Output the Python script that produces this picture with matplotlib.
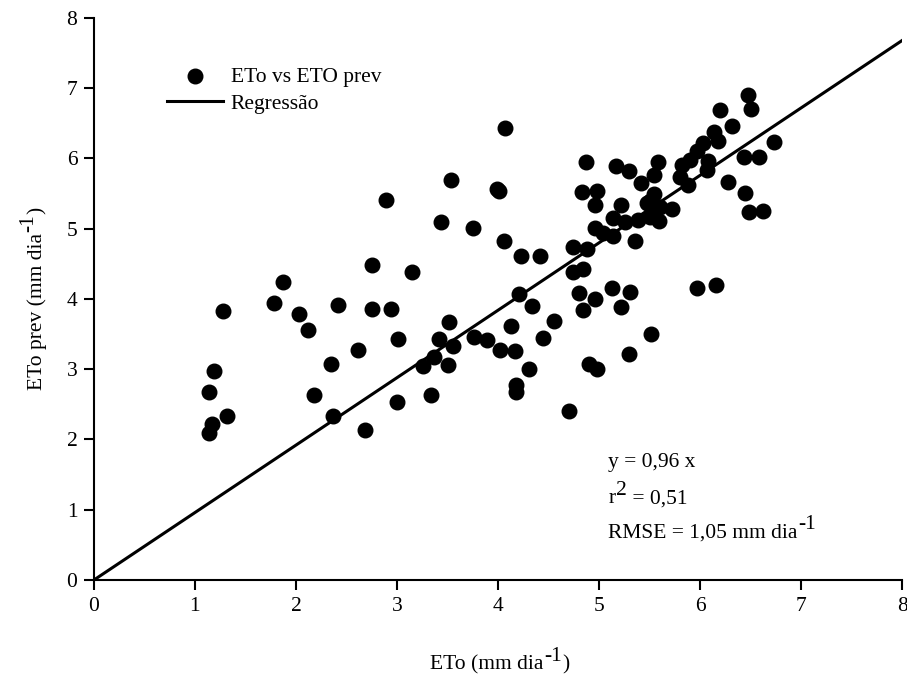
import numpy as np
import matplotlib
matplotlib.use("Agg")
import matplotlib.pyplot as plt

plt.rcParams['font.family'] = ['Liberation Serif', 'DejaVu Serif']

eto = [1.28, 1.87, 1.78, 2.03, 2.12, 2.42, 1.19, 1.14, 1.32, 1.17,
       1.14, 2.35, 2.61, 2.18, 2.37, 2.68, 2.75, 2.75, 2.94, 2.89,
       3.01, 3.00, 3.15, 3.44, 3.53, 3.75, 3.99, 4.01, 4.07, 4.06,
       4.23, 4.42, 4.21, 4.34, 4.55, 3.51, 4.13, 4.45, 3.42, 3.55,
       3.76, 3.89, 4.02, 4.17, 3.37, 3.26, 3.50, 4.31, 4.18, 4.18,
       3.34, 4.70, 4.74, 4.88, 4.74, 4.84, 4.80, 4.96, 4.84, 5.13,
       5.31, 5.22, 5.97, 6.16, 5.51, 5.30, 4.90, 4.98, 4.87, 4.83,
       4.98, 4.96, 4.96, 5.17, 5.30, 5.58, 5.42, 5.54, 5.82, 5.90,
       6.03, 6.18, 6.07, 5.80, 5.88, 6.28, 5.22, 5.50, 5.54, 5.72,
       5.14, 5.26, 5.39, 5.50, 5.59, 5.52, 5.04, 5.14, 5.36, 6.47,
       6.50, 6.20, 6.32, 6.14, 6.73, 6.43, 6.58, 6.08, 5.97, 6.44,
       6.48, 6.62, 5.60, 5.47]
eto_prev = [3.83, 4.24, 3.95, 3.78, 3.56, 3.92, 2.98, 2.67, 2.33, 2.22,
            2.09, 3.08, 3.27, 2.63, 2.33, 2.14, 4.48, 3.86, 3.86, 5.41,
            3.43, 2.53, 4.38, 5.09, 5.69, 5.01, 5.57, 5.54, 6.44, 4.83,
            4.61, 4.61, 4.07, 3.90, 3.68, 3.67, 3.61, 3.44, 3.43, 3.33,
            3.46, 3.42, 3.27, 3.26, 3.17, 3.04, 3.06, 3.00, 2.78, 2.68,
            2.64, 2.41, 4.74, 4.71, 4.39, 4.42, 4.08, 4.00, 3.85, 4.15,
            4.10, 3.88, 4.16, 4.20, 3.50, 3.22, 3.07, 3.00, 5.95, 5.53,
            5.54, 5.34, 5.01, 5.89, 5.82, 5.95, 5.65, 5.77, 5.91, 5.98,
            6.22, 6.25, 5.84, 5.74, 5.62, 5.67, 5.34, 5.39, 5.50, 5.28,
            5.15, 5.09, 5.12, 5.17, 5.11, 5.27, 4.94, 4.89, 4.82, 6.91,
            6.70, 6.69, 6.46, 6.38, 6.23, 6.02, 6.02, 5.96, 6.10, 5.51,
            5.24, 5.25, 5.31, 5.36]

slope = 0.96
x_line = np.array([0, 8])


def sup_text(ax, x, y, parts, size, transform, rot=False, rise=6):
    # parts: lista de (texto, elevado?) ; escreve em sequencia com sobrescritos grandes
    if rot:
        t = ax.text(x, y, parts[0][0], transform=transform, fontsize=size,
                    rotation=90, ha='right', va='bottom')
    else:
        t = ax.text(x, y, parts[0][0], transform=transform, fontsize=size,
                    ha='left', va='bottom')
    up = parts[0][1]
    for s, is_up in parts[1:]:
        d = (rise if is_up else 0) - (rise if up else 0)
        if rot:
            t = ax.annotate(s, xy=(1, 1), xycoords=t, xytext=(-d, 0.5),
                            textcoords='offset points', fontsize=size,
                            rotation=90, ha='right', va='bottom',
                            annotation_clip=False)
        else:
            t = ax.annotate(s, xy=(1, 0), xycoords=t, xytext=(0.5, d),
                            textcoords='offset points', fontsize=size,
                            ha='left', va='bottom', annotation_clip=False)
        up = is_up
    return t


fig = plt.figure(figsize=(9.07, 6.82), dpi=100)
ax = fig.add_axes([0.1036, 0.1496, 0.891, 0.824])

ax.scatter(eto, eto_prev, s=110, color='black', zorder=3, label='ETo vs ETO prev')
ax.plot(x_line, slope * x_line, color='black', lw=2.2, label='Regressão')

ax.set_xlim(0, 8)
ax.set_ylim(0, 8)
ax.set_xticks(range(0, 9))
ax.set_yticks(range(0, 9))
ax.tick_params(direction='out', length=7, width=1.5, labelsize=15.5, pad=5)
for s in ['top', 'right']:
    ax.spines[s].set_visible(False)
for s in ['left', 'bottom']:
    ax.spines[s].set_linewidth(1.5)

# rotulos dos eixos com sobrescrito
sup_text(ax, 430 / 907, 1 - 674 / 682, [('ETo (mm dia', False), ('-1', True), (')', False)],
         15.5, fig.transFigure)
sup_text(ax, 47 / 907, 1 - 390 / 682, [('ETo prev (mm dia', False), ('-1', True), (')', False)],
         15.5, fig.transFigure, rot=True)

ax.legend(loc='upper left', bbox_to_anchor=(0.08, 0.928), frameon=False,
          fontsize=15.5, handlelength=2.6, handletextpad=0.35, labelspacing=0.3,
          borderaxespad=0)

sup_text(ax, 5.09, 1.53, [('y = 0,96 x', False)], 15.5, ax.transData)
sup_text(ax, 5.09, 1.02, [('r', False), ('2', True), (' = 0,51', False)], 15.5, ax.transData)
sup_text(ax, 5.09, 0.53, [('RMSE = 1,05 mm dia', False), ('-1', True)], 15.5, ax.transData)

fig.savefig('out.png', dpi=100)
